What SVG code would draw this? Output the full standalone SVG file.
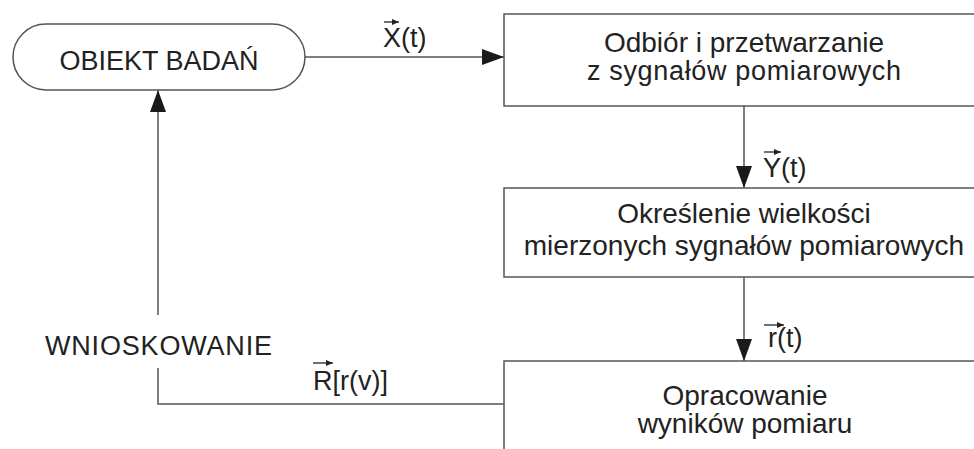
<svg xmlns="http://www.w3.org/2000/svg" width="974" height="449" viewBox="0 0 974 449">
<style>
.box{fill:#fff;stroke:#555;stroke-width:1.5}
.ln{fill:none;stroke:#555;stroke-width:1.5}
.t{font-family:"Liberation Sans",Arial,sans-serif;font-size:27px;fill:#222}
.b{font-size:28px}
.c{text-anchor:middle}
.va{fill:none;stroke:#222;stroke-width:1.3}
</style>
<defs>
<marker id="ah" markerWidth="22" markerHeight="16" refX="22" refY="8" orient="auto" markerUnits="userSpaceOnUse">
<path d="M0,0 L22,8 L0,16 Z" fill="#1a1a1a"/>
</marker>
<marker id="sa" markerWidth="7" markerHeight="6" refX="7" refY="3" orient="auto" markerUnits="userSpaceOnUse">
<path d="M0,0 L7,3 L0,6 Z" fill="#222"/>
</marker>
</defs>
<rect width="974" height="449" fill="#fff"/>
<g id="connectors">
<line class="ln" x1="305" y1="57" x2="504" y2="57" marker-end="url(#ah)"/>
<line class="ln" x1="744" y1="106" x2="744" y2="188" marker-end="url(#ah)"/>
<line class="ln" x1="744" y1="277" x2="744" y2="361" marker-end="url(#ah)"/>
<polyline class="ln" points="504,404 158,404 158,368"/>
<line class="ln" x1="158" y1="315" x2="158" y2="90" marker-end="url(#ah)"/>
<g id="lbl-x">
<text class="t" x="383" y="47">X(t)</text>
<line class="va" x1="384" y1="22" x2="399" y2="22" marker-end="url(#sa)"/>
</g>
<g id="lbl-y">
<text class="t" x="763" y="177">Y(t)</text>
<line class="va" x1="764" y1="152" x2="781" y2="152" marker-end="url(#sa)"/>
</g>
<g id="lbl-r">
<text class="t" x="768" y="347">r(t)</text>
<line class="va" x1="764" y1="325" x2="784" y2="325" marker-end="url(#sa)"/>
</g>
<g id="lbl-R">
<text class="t" x="313" y="390">R[r(v)]</text>
<line class="va" x1="313" y1="363" x2="333" y2="363" marker-end="url(#sa)"/>
</g>
<text id="lbl-wn" class="t" x="45" y="355" textLength="227">WNIOSKOWANIE</text>
</g>
<g id="obiekt">
<rect class="box" x="13" y="24" width="292" height="66" rx="33" ry="33"/>
<text class="t c" x="159" y="70">OBIEKT BADAŃ</text>
</g>
<g id="odbior">
<rect class="box" x="504" y="14" width="480" height="92"/>
<text class="t b c" x="744" y="52">Odbiór i przetwarzanie</text>
<text class="t c" x="744" y="80" textLength="314">z sygnałów pomiarowych</text>
</g>
<g id="okreslenie">
<rect class="box" x="504" y="188" width="480" height="89"/>
<text class="t b c" x="744" y="223">Określenie wielkości</text>
<text class="t b c" x="744" y="255">mierzonych sygnałów pomiarowych</text>
</g>
<g id="opracowanie">
<rect class="box" x="504" y="361" width="480" height="100"/>
<text class="t b c" x="745" y="405">Opracowanie</text>
<text class="t b c" x="745" y="433">wyników pomiaru</text>
</g>
</svg>
